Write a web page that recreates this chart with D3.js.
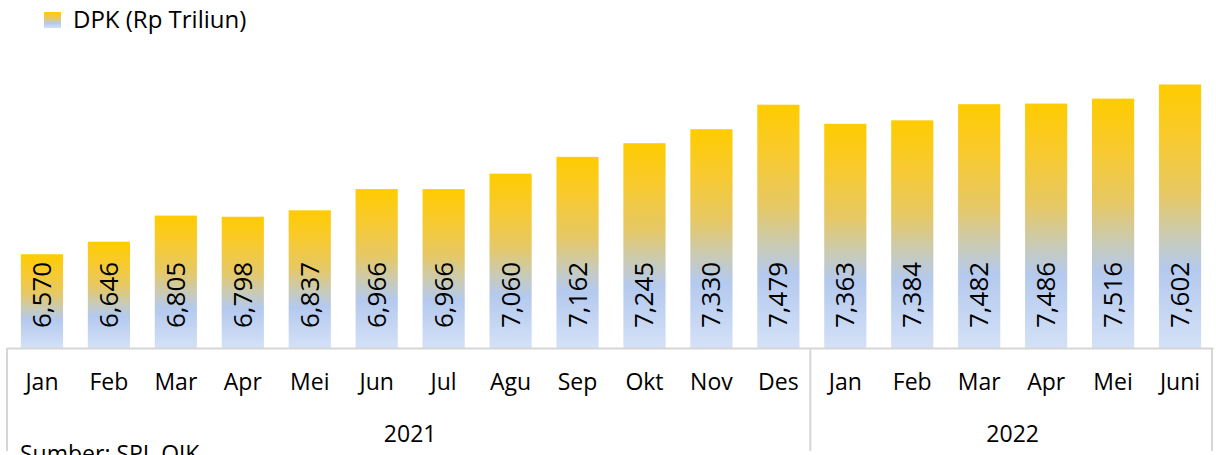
<!DOCTYPE html>
<html>
<head>
<meta charset="utf-8">
<script src="https://cdn.jsdelivr.net/npm/d3@7"></script>
<style>
  html, body { margin: 0; padding: 0; background: #fff; }
  svg { display: block; }
  text { font-family: "Open Sans", "Noto Sans", sans-serif; fill: #000; }
</style>
</head>
<body>
<svg id="chart" width="1216" height="455"></svg>
<script>
// DPK monthly figures, Jan 2021 – Jun 2022
const months = ["Jan","Feb","Mar","Apr","Mei","Jun","Jul","Agu","Sep","Okt","Nov","Des",
                "Jan","Feb","Mar","Apr","Mei","Juni"];
const years = ["2021","2022"];
const dpk = [6570, 6646, 6805, 6798, 6837, 6966, 6966, 7060, 7162, 7245, 7330, 7479,
             7363, 7384, 7482, 7486, 7516, 7602];
const seriesName = "DPK (Rp Triliun)";
const sourceNote = "Sumber: SPI, OJK";

const plot = { left: 8.5, right: 1213.5, top: 19, bottom: 348 };

const svg = d3.select("#chart");

// gold-to-blue fill, stretched over each bar
const defs = svg.append("defs");
const grad = defs.append("linearGradient")
  .attr("id", "barFill").attr("x1", 0).attr("y1", 0).attr("x2", 0).attr("y2", 1);
[["0%", "#FFCC00"], ["20%", "#F8CA2E"], ["42%", "#E6C865"], ["58%", "#C9CBB6"],
 ["70%", "#B4C9EE"], ["100%", "#D4E1F7"]]
  .forEach(([o, c]) => grad.append("stop").attr("offset", o).attr("stop-color", c));

const idx = d3.range(months.length);
const x = d3.scaleBand().domain(idx).range([plot.left, plot.right]).paddingInner(0.37).paddingOuter(0.185);
const y = d3.scaleLinear().domain([6000, 8000]).range([plot.bottom, plot.top]);

// bars
svg.append("g").selectAll("rect").data(idx).join("rect")
  .attr("x", i => x(i))
  .attr("width", x.bandwidth())
  .attr("y", i => y(dpk[i]))
  .attr("height", i => y(6000) - y(dpk[i]))
  .attr("fill", "url(#barFill)");

// value labels, rotated, sitting at the base of each bar
const fmt = d3.format(",");
svg.append("g").selectAll("text").data(idx).join("text")
  .attr("transform", i => `translate(${x(i) + x.bandwidth() / 2 + 9},${plot.bottom - 20}) rotate(-90)`)
  .attr("font-size", 26)
  .text(i => fmt(dpk[i]));

// category axis: baseline and group separators
const axisColor = "#d6d6d6";
svg.append("line")
  .attr("x1", plot.left - 1.5).attr("x2", plot.right).attr("y1", plot.bottom + 0.5).attr("y2", plot.bottom + 0.5)
  .attr("stroke", axisColor).attr("stroke-width", 2);

const step = x.step();
const yearEdges = [0, 12, 18].map(k => plot.left + k * step);
svg.append("g").selectAll("line").data(yearEdges).join("line")
  .attr("x1", d => d - 1.5).attr("x2", d => d - 1.5)
  .attr("y1", plot.bottom).attr("y2", 451)
  .attr("stroke", axisColor).attr("stroke-width", 2);

// month labels
svg.append("g").selectAll("text").data(idx).join("text")
  .attr("x", i => x(i) + x.bandwidth() / 2)
  .attr("y", 390)
  .attr("text-anchor", "middle")
  .attr("font-size", 23)
  .text(i => months[i]);

// year labels centred under their months
svg.append("g").selectAll("text").data(years).join("text")
  .attr("x", (d, k) => (yearEdges[k] + yearEdges[k + 1]) / 2)
  .attr("y", 442)
  .attr("text-anchor", "middle")
  .attr("font-size", 23)
  .text(d => d);

// legend
const legend = svg.append("g");
legend.append("rect").attr("x", 44).attr("y", 12).attr("width", 17).attr("height", 16)
  .attr("fill", "url(#barFill)");
legend.append("text").attr("x", 73).attr("y", 28).attr("font-size", 24).text(seriesName);

// source note, running off the bottom edge
svg.append("text").attr("x", 20).attr("y", 462).attr("font-size", 23).text(sourceNote);
</script>
</body>
</html>
